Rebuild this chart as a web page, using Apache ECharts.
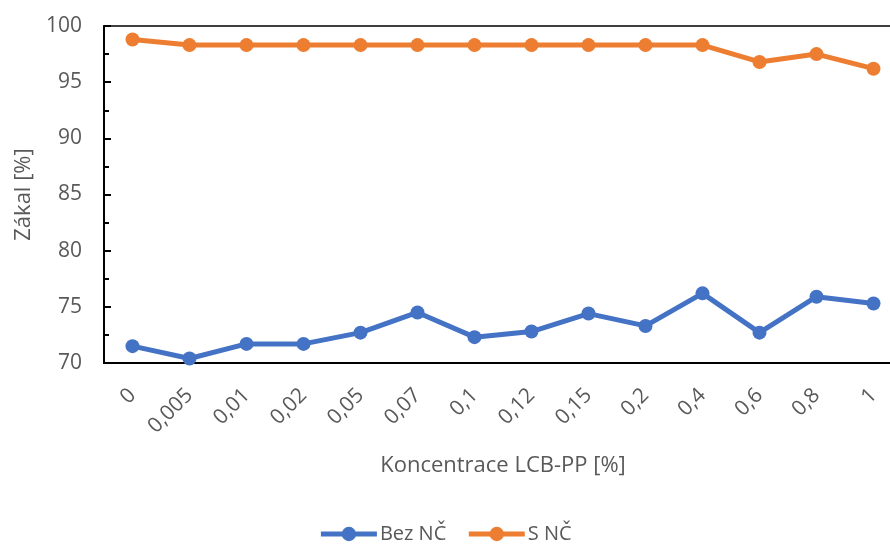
<!DOCTYPE html>
<html><head><meta charset="utf-8">
<script src="https://cdn.jsdelivr.net/npm/echarts@6/dist/echarts.min.js"></script>
<style>html,body{margin:0;padding:0;background:#fff}#c{width:890px;height:544px}</style>
</head><body><div id="c"></div>
<script>
const categories = ['0','0,005','0,01','0,02','0,05','0,07','0,1','0,12','0,15','0,2','0,4','0,6','0,8','1'];
const bezNC = [71.5,70.4,71.7,71.7,72.7,74.5,72.3,72.8,74.4,73.3,76.2,72.7,75.9,75.3];
const sNC = [98.8,98.3,98.3,98.3,98.3,98.3,98.3,98.3,98.3,98.3,98.3,96.8,97.5,96.2];
const seriesNames = ['Bez NČ','S NČ'];
const yTicks = {min:70,max:100,interval:5,minorInterval:2.5};

const font = '"Open Sans", "Noto Sans", sans-serif';
const grey = '#595959';
const chart = echarts.init(document.getElementById('c'));
chart.setOption({
  animation:false,
  grid:{left:104,width:798,top:26,height:337,outerBoundsMode:'none',containLabel:false,
    show:true,borderColor:'#000',borderWidth:1.5,backgroundColor:'transparent'},
  legend:{bottom:-5,left:'center',itemWidth:56,itemHeight:18,itemGap:20,
    lineStyle:{width:5},
    textStyle:{fontFamily:font,fontSize:20,color:grey,padding:[0,0,0,-2]},
    data:seriesNames},
  xAxis:{type:'category',data:categories,boundaryGap:true,
    name:'Koncentrace LCB-PP [%]',nameLocation:'middle',nameGap:92,
    nameTextStyle:{fontFamily:font,fontSize:22,color:grey},
    axisLine:{lineStyle:{color:'#000',width:2}},
    axisTick:{alignWithLabel:true,inside:true,length:5,lineStyle:{color:'#000',width:2}},
    axisLabel:{rotate:45,margin:29,fontFamily:font,fontSize:21,color:grey,interval:0}},
  yAxis:[{type:'value',min:yTicks.min,max:yTicks.max,interval:yTicks.interval,
    name:'Zákal [%]',nameLocation:'middle',nameGap:68,
    nameTextStyle:{fontFamily:font,fontSize:22,color:grey},
    axisLine:{show:true,lineStyle:{color:'#000',width:2}},
    axisTick:{show:true,inside:true,length:7,lineStyle:{color:'#000',width:2}},
    splitLine:{show:false},
    axisLabel:{margin:22,fontFamily:font,fontSize:21,color:grey}},
   {type:'value',min:yTicks.min,max:yTicks.max,interval:yTicks.minorInterval,position:'left',
    axisLine:{show:false},axisLabel:{show:false},splitLine:{show:false},
    axisTick:{show:true,inside:true,length:5,lineStyle:{color:'#000',width:2}}}],
  series:[
    {name:seriesNames[0],type:'line',data:bezNC,symbol:'circle',symbolSize:14,
      lineStyle:{width:5,color:'#4472C4'},itemStyle:{color:'#4472C4'}},
    {name:seriesNames[1],type:'line',data:sNC,symbol:'circle',symbolSize:14,
      lineStyle:{width:5,color:'#ED7D31'},itemStyle:{color:'#ED7D31'}}
  ]
});
</script></body></html>
